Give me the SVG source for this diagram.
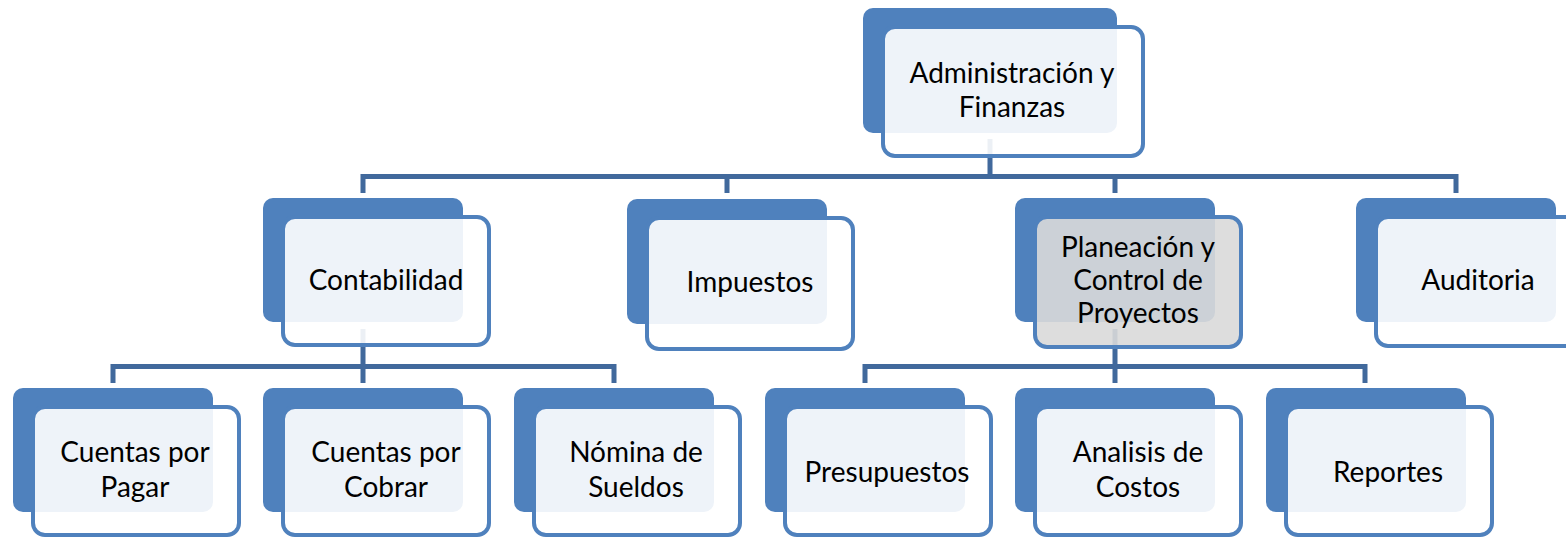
<svg xmlns="http://www.w3.org/2000/svg" width="1566" height="538" viewBox="0 0 1566 538">
<style>
.back{fill:#4F81BD}
.front{fill:#FFFFFF;fill-opacity:0.9;stroke:#4F81BD;stroke-width:4}
.front.sel{fill:#D9D9D9}
.lbl{font-family:Lato,"Liberation Sans",sans-serif;font-size:28px;fill:#000;text-anchor:middle}
.conn{fill:none;stroke:#41699C;stroke-width:5}
</style>
<rect width="1566" height="538" fill="#FFFFFF"/>
<g id="connectors">
<path class="conn" d="M990 139 V176.5 M363 193 V176.5 H1456 V193 M727 176.5 V193 M1115 176.5 V193"/>
<path class="conn" d="M363 329 V366.5 M113 383 V366.5 H614 V383 M363 366.5 V383"/>
<path class="conn" d="M1115 329 V366.5 M865 383 V366.5 H1365 V383 M1115 366.5 V383"/>
</g>
<g id="n-admin">
<rect class="back" x="863" y="8" width="254" height="125" rx="10"/>
<rect class="front" x="883" y="27" width="260" height="129" rx="12"/>
<text class="lbl" x="1012" y="83">Administración y</text>
<text class="lbl" x="1012" y="117">Finanzas</text>
</g>
<g id="n-contabilidad">
<rect class="back" x="263" y="198" width="200" height="124" rx="10"/>
<rect class="front" x="283" y="217" width="206" height="128" rx="12"/>
<text class="lbl" x="386" y="290">Contabilidad</text>
</g>
<g id="n-impuestos">
<rect class="back" x="627" y="199" width="200" height="125" rx="10"/>
<rect class="front" x="647" y="218" width="206" height="131" rx="12"/>
<text class="lbl" x="750" y="292">Impuestos</text>
</g>
<g id="n-planeacion">
<rect class="back" x="1015" y="198" width="200" height="124" rx="10"/>
<rect class="front sel" x="1035" y="217" width="206" height="130" rx="12"/>
<text class="lbl" x="1138" y="257">Planeación y</text>
<text class="lbl" x="1138" y="290">Control de</text>
<text class="lbl" x="1138" y="323">Proyectos</text>
</g>
<g id="n-auditoria">
<rect class="back" x="1356" y="198" width="200" height="124" rx="10"/>
<rect class="front" x="1376" y="217" width="206" height="129" rx="12"/>
<text class="lbl" x="1478" y="290">Auditoria</text>
</g>
<g id="n-cxp">
<rect class="back" x="13" y="388" width="200" height="124" rx="10"/>
<rect class="front" x="33" y="407" width="206" height="128" rx="12"/>
<text class="lbl" x="135" y="462">Cuentas por</text>
<text class="lbl" x="135" y="497">Pagar</text>
</g>
<g id="n-cxc">
<rect class="back" x="263" y="388" width="200" height="124" rx="10"/>
<rect class="front" x="283" y="407" width="206" height="128" rx="12"/>
<text class="lbl" x="386" y="462">Cuentas por</text>
<text class="lbl" x="386" y="497">Cobrar</text>
</g>
<g id="n-nomina">
<rect class="back" x="514" y="388" width="200" height="124" rx="10"/>
<rect class="front" x="534" y="407" width="206" height="128" rx="12"/>
<text class="lbl" x="636" y="462">Nómina de</text>
<text class="lbl" x="636" y="497">Sueldos</text>
</g>
<g id="n-presupuestos">
<rect class="back" x="765" y="388" width="200" height="124" rx="10"/>
<rect class="front" x="785" y="407" width="206" height="128" rx="12"/>
<text class="lbl" x="887" y="482">Presupuestos</text>
</g>
<g id="n-costos">
<rect class="back" x="1015" y="388" width="200" height="124" rx="10"/>
<rect class="front" x="1035" y="407" width="206" height="128" rx="12"/>
<text class="lbl" x="1138" y="462">Analisis de</text>
<text class="lbl" x="1138" y="497">Costos</text>
</g>
<g id="n-reportes">
<rect class="back" x="1266" y="388" width="200" height="124" rx="10"/>
<rect class="front" x="1286" y="407" width="206" height="128" rx="12"/>
<text class="lbl" x="1388" y="482">Reportes</text>
</g>
</svg>
